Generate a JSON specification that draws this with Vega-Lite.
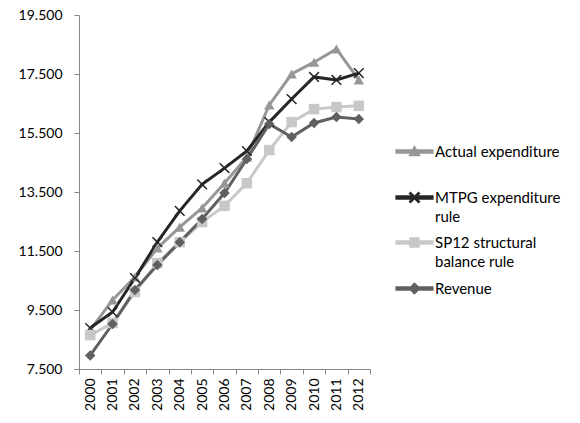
{
  "$schema": "https://vega.github.io/schema/vega-lite/v6.json",
  "autosize": "none",
  "width": 291,
  "height": 354,
  "padding": {"left": 79, "top": 15, "right": 210, "bottom": 54},
  "background": "white",
  "config": {
    "font": "Lato",
    "view": {"stroke": null}
  },
  "data": {
    "values": [
      {"year": "2000", "series": "Actual expenditure", "value": 8820},
      {"year": "2001", "series": "Actual expenditure", "value": 9840},
      {"year": "2002", "series": "Actual expenditure", "value": 10620},
      {"year": "2003", "series": "Actual expenditure", "value": 11600},
      {"year": "2004", "series": "Actual expenditure", "value": 12310},
      {"year": "2005", "series": "Actual expenditure", "value": 12960},
      {"year": "2006", "series": "Actual expenditure", "value": 13800},
      {"year": "2007", "series": "Actual expenditure", "value": 14690},
      {"year": "2008", "series": "Actual expenditure", "value": 16450},
      {"year": "2009", "series": "Actual expenditure", "value": 17500},
      {"year": "2010", "series": "Actual expenditure", "value": 17900},
      {"year": "2011", "series": "Actual expenditure", "value": 18350},
      {"year": "2012", "series": "Actual expenditure", "value": 17300},
      {"year": "2000", "series": "MTPG expenditure rule", "value": 8890},
      {"year": "2001", "series": "MTPG expenditure rule", "value": 9430},
      {"year": "2002", "series": "MTPG expenditure rule", "value": 10585},
      {"year": "2003", "series": "MTPG expenditure rule", "value": 11800},
      {"year": "2004", "series": "MTPG expenditure rule", "value": 12860},
      {"year": "2005", "series": "MTPG expenditure rule", "value": 13760},
      {"year": "2006", "series": "MTPG expenditure rule", "value": 14310},
      {"year": "2007", "series": "MTPG expenditure rule", "value": 14890},
      {"year": "2008", "series": "MTPG expenditure rule", "value": 15870},
      {"year": "2009", "series": "MTPG expenditure rule", "value": 16650},
      {"year": "2010", "series": "MTPG expenditure rule", "value": 17400},
      {"year": "2011", "series": "MTPG expenditure rule", "value": 17300},
      {"year": "2012", "series": "MTPG expenditure rule", "value": 17530},
      {"year": "2000", "series": "SP12 structural balance rule", "value": 8650},
      {"year": "2001", "series": "SP12 structural balance rule", "value": 9060},
      {"year": "2002", "series": "SP12 structural balance rule", "value": 10110},
      {"year": "2003", "series": "SP12 structural balance rule", "value": 11090},
      {"year": "2004", "series": "SP12 structural balance rule", "value": 11800},
      {"year": "2005", "series": "SP12 structural balance rule", "value": 12480},
      {"year": "2006", "series": "SP12 structural balance rule", "value": 13030},
      {"year": "2007", "series": "SP12 structural balance rule", "value": 13800},
      {"year": "2008", "series": "SP12 structural balance rule", "value": 14920},
      {"year": "2009", "series": "SP12 structural balance rule", "value": 15870},
      {"year": "2010", "series": "SP12 structural balance rule", "value": 16310},
      {"year": "2011", "series": "SP12 structural balance rule", "value": 16380},
      {"year": "2012", "series": "SP12 structural balance rule", "value": 16420},
      {"year": "2000", "series": "Revenue", "value": 7960},
      {"year": "2001", "series": "Revenue", "value": 9025},
      {"year": "2002", "series": "Revenue", "value": 10180},
      {"year": "2003", "series": "Revenue", "value": 11025},
      {"year": "2004", "series": "Revenue", "value": 11800},
      {"year": "2005", "series": "Revenue", "value": 12585},
      {"year": "2006", "series": "Revenue", "value": 13465},
      {"year": "2007", "series": "Revenue", "value": 14620},
      {"year": "2008", "series": "Revenue", "value": 15805},
      {"year": "2009", "series": "Revenue", "value": 15364},
      {"year": "2010", "series": "Revenue", "value": 15840},
      {"year": "2011", "series": "Revenue", "value": 16040},
      {"year": "2012", "series": "Revenue", "value": 15975}
    ]
  },
  "encoding": {
    "x": {
      "field": "year",
      "type": "ordinal",
      "scale": {"paddingInner": 0, "paddingOuter": 0},
      "axis": {
        "title": null,
        "labelAngle": 270,
        "labelAlign": "right",
        "labelBaseline": "middle",
        "labelFontSize": 14,
        "labelColor": "#000000",
        "labelPadding": 4,
        "tickBand": "extent",
        "tickSize": 5,
        "tickColor": "#868686",
        "domainColor": "#868686",
        "grid": false
      }
    },
    "y": {
      "field": "value",
      "type": "quantitative",
      "scale": {"domain": [7500, 19500], "nice": false, "zero": false},
      "axis": {
        "title": null,
        "values": [7500, 9500, 11500, 13500, 15500, 17500, 19500],
        "format": ",d",
        "labelExpr": "replace(datum.label, ',', '.')",
        "labelFontSize": 14,
        "labelColor": "#000000",
        "labelPadding": 12,
        "tickSize": 5,
        "tickColor": "#868686",
        "domainColor": "#868686",
        "grid": false
      }
    },
    "color": {
      "field": "series",
      "type": "nominal",
      "scale": {
        "domain": ["Actual expenditure", "MTPG expenditure rule", "SP12 structural balance rule", "Revenue"],
        "range": ["#979797", "#262626", "#c8c8c8", "#606060"]
      },
      "legend": {
        "title": null,
        "orient": "none",
        "legendX": 328,
        "legendY": 129,
        "labelFontSize": 15,
        "labelColor": "#000000",
        "labelOffset": 13,
        "symbolSize": 110,
        "rowPadding": 10,
        "labelLimit": 200,
        "labelExpr": "datum.label == 'Actual expenditure' ? ['Actual expenditure', ''] : datum.label == 'MTPG expenditure rule' ? ['MTPG expenditure', 'rule'] : datum.label == 'SP12 structural balance rule' ? ['SP12 structural', 'balance rule'] : datum.label",
        "encode": {"labels": {"update": {"lineHeight": {"value": 19}}}}
      }
    }
  },
  "layer": [
    {
      "mark": {"type": "line", "strokeWidth": 3},
      "encoding": {}
    },
    {
      "transform": [{"filter": "datum.series == 'Actual expenditure'"}],
      "mark": {"type": "point", "filled": true, "opacity": 1, "size": 110, "shape": "triangle-up"},
      "encoding": {}
    },
    {
      "transform": [{"filter": "datum.series == 'MTPG expenditure rule'"}],
      "mark": {"type": "point", "filled": true, "opacity": 1, "size": 130, "shape": "M0.184,0L0.941,0.757L0.757,0.941L0,0.184L-0.757,0.941L-0.941,0.757L-0.184,0L-0.941,-0.757L-0.757,-0.941L0,-0.184L0.757,-0.941L0.941,-0.757Z"},
      "encoding": {}
    },
    {
      "transform": [{"filter": "datum.series == 'SP12 structural balance rule'"}],
      "mark": {"type": "point", "filled": true, "opacity": 1, "size": 110, "shape": "square"},
      "encoding": {}
    },
    {
      "transform": [{"filter": "datum.series == 'Revenue'"}],
      "mark": {"type": "point", "filled": true, "opacity": 1, "size": 110, "shape": "diamond"},
      "encoding": {}
    },
    {
      "transform": [{"filter": "datum.value < 0"}],
      "mark": {"type": "point", "filled": true, "opacity": 1, "size": 110},
      "encoding": {
        "shape": {
          "field": "series",
          "type": "nominal",
          "scale": {
            "domain": ["Actual expenditure", "MTPG expenditure rule", "SP12 structural balance rule", "Revenue"],
            "range": [
              "M-3.5,-0.28H3.5V0.28H-3.5Z M0,-0.95L0.95,0.75L-0.95,0.75Z",
              "M-3.5,-0.28H3.5V0.28H-3.5Z M0.184,0L0.941,0.757L0.757,0.941L0,0.184L-0.757,0.941L-0.941,0.757L-0.184,0L-0.941,-0.757L-0.757,-0.941L0,-0.184L0.757,-0.941L0.941,-0.757Z",
              "M-3.5,-0.28H3.5V0.28H-3.5Z M-0.85,-0.85H0.85V0.85H-0.85Z",
              "M-3.5,-0.28H3.5V0.28H-3.5Z M0,-1L1,0L0,1L-1,0Z"
            ]
          },
          "legend": {
            "title": null,
            "orient": "none",
            "legendX": 328,
            "legendY": 129,
            "labelFontSize": 15,
            "labelColor": "#000000",
            "labelOffset": 13,
            "symbolSize": 110,
            "rowPadding": 10,
            "labelLimit": 200,
            "labelExpr": "datum.label == 'Actual expenditure' ? ['Actual expenditure', ''] : datum.label == 'MTPG expenditure rule' ? ['MTPG expenditure', 'rule'] : datum.label == 'SP12 structural balance rule' ? ['SP12 structural', 'balance rule'] : datum.label",
            "encode": {"labels": {"update": {"lineHeight": {"value": 19}}}}
          }
        }
      }
    }
  ]
}
